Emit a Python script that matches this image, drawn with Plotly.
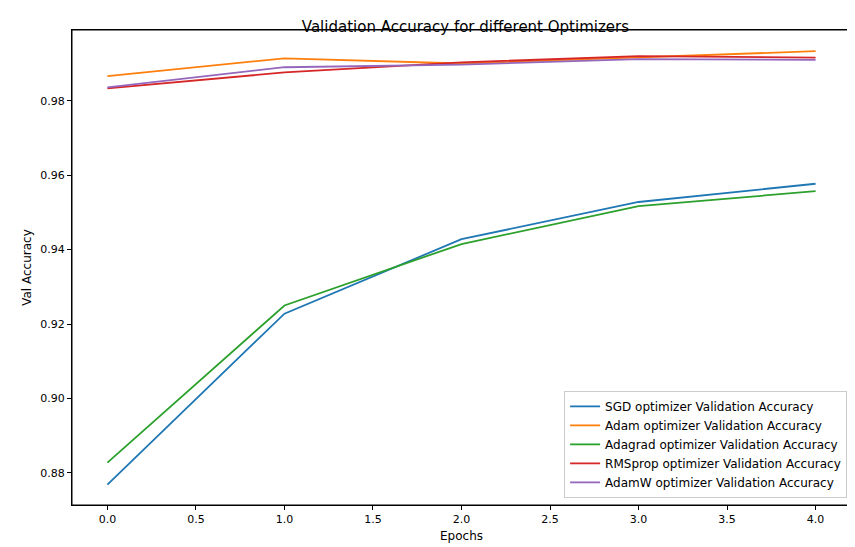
import plotly.graph_objects as go

epochs = [0, 1, 2, 3, 4]
sgd = [0.8769, 0.9228, 0.9428, 0.9528, 0.9577]
adam = [0.9866, 0.9914, 0.9900, 0.9917, 0.9933]
adagrad = [0.8828, 0.9250, 0.9415, 0.9517, 0.9557]
rmsprop = [0.9833, 0.9876, 0.9903, 0.9920, 0.9916]
adamw = [0.9836, 0.9890, 0.9897, 0.9912, 0.9910]

names = ["SGD", "Adam", "Adagrad", "RMSprop", "AdamW"]
series = [sgd, adam, adagrad, rmsprop, adamw]
colors = ["#1f77b4", "#ff7f0e", "#2ca02c", "#d62728", "#9467bd"]

fig = go.Figure()
for n, s, c in zip(names, series, colors):
    fig.add_trace(go.Scatter(x=epochs, y=s, mode="lines", name=f"{n} optimizer Validation Accuracy",
                             line=dict(color=c, width=1.8)))

axis = dict(showline=True, linecolor="black", linewidth=1, mirror=True, showgrid=False, zeroline=False,
            ticks="outside", ticklen=4, tickcolor="black", tickfont=dict(size=11, color="black"))
fig.update_layout(
    width=855, height=547, plot_bgcolor="white", paper_bgcolor="white",
    font=dict(family="DejaVu Sans", color="black"),
    margin=dict(l=64, r=12, t=22, b=50),
    title=dict(text="Validation Accuracy for different Optimizers", x=0.535, xanchor="center", y=0.975,
               font=dict(size=15)),
    xaxis=dict(axis, title=dict(text="Epochs", font=dict(size=12), standoff=6), range=[-0.2, 4.2],
               tickvals=[0, 0.5, 1, 1.5, 2, 2.5, 3, 3.5, 4],
               ticktext=["0.0", "0.5", "1.0", "1.5", "2.0", "2.5", "3.0", "3.5", "4.0"]),
    yaxis=dict(axis, title=dict(text="Val Accuracy", font=dict(size=12), standoff=6), range=[0.8714, 0.9990],
               tickvals=[0.88, 0.90, 0.92, 0.94, 0.96, 0.98],
               ticktext=["0.88", "0.90", "0.92", "0.94", "0.96", "0.98"]),
    legend=dict(x=0.995, y=0.015, xanchor="right", yanchor="bottom", bordercolor="#cccccc", borderwidth=1,
                bgcolor="rgba(255,255,255,0.8)", font=dict(size=12)),
    shapes=[dict(type="rect", xref="paper", yref="paper", x0=0, y0=0, x1=1, y1=1,
                 line=dict(color="black", width=1), layer="above")],
)
fig.write_html("out.html")
